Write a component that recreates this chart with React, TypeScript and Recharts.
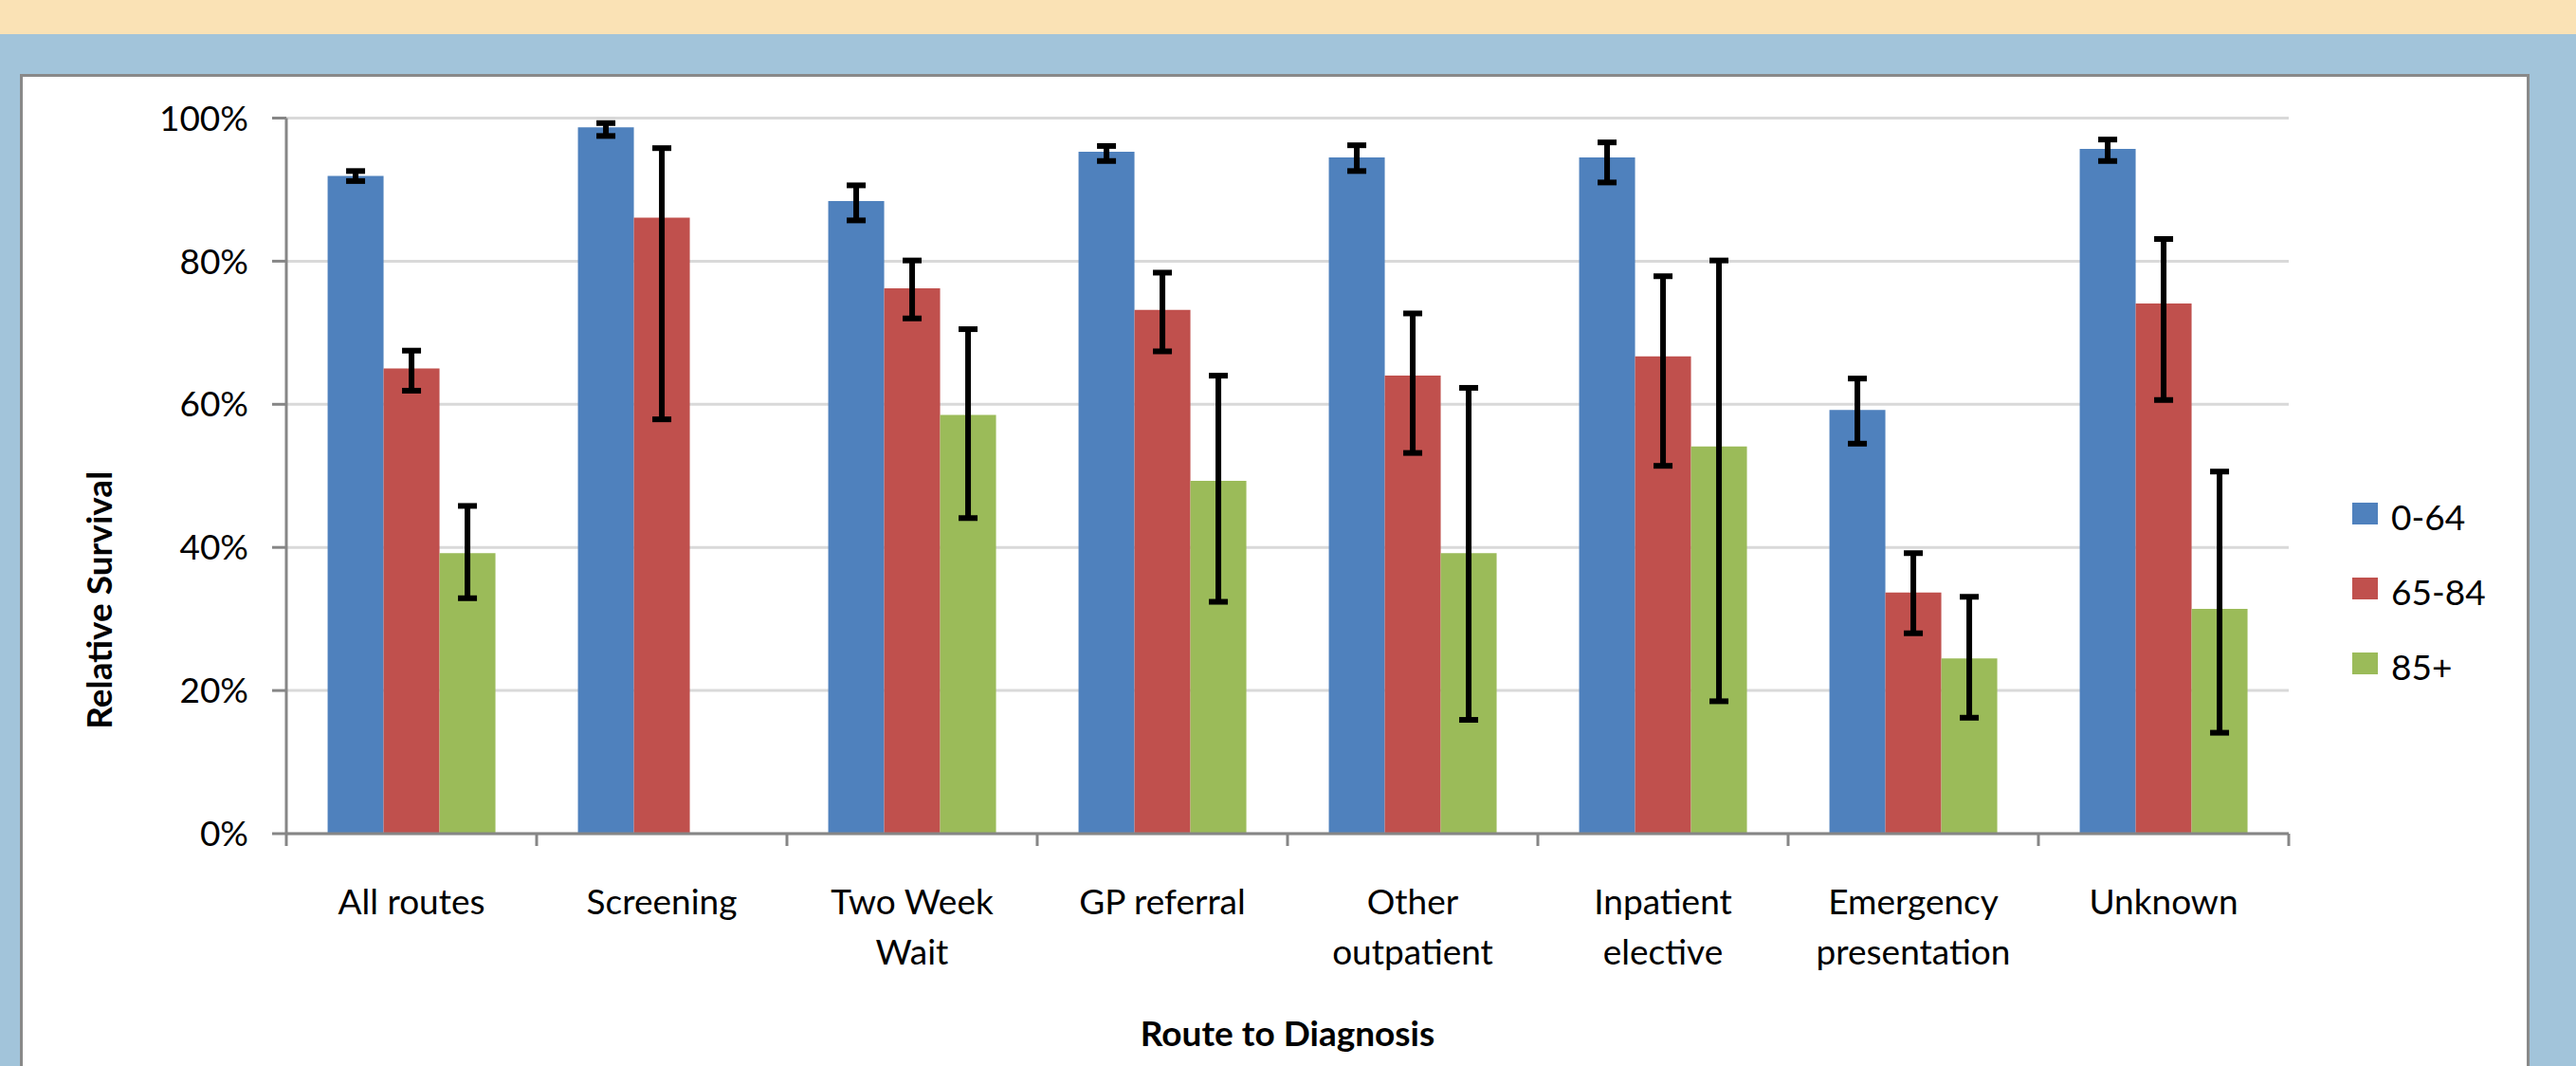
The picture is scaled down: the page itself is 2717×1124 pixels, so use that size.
import React from "react";
import { BarChart, Bar, XAxis, YAxis, CartesianGrid, ErrorBar, ReferenceLine, Label } from "recharts";

const routes = [
  "All routes",
  "Screening",
  "Two Week Wait",
  "GP referral",
  "Other outpatient",
  "Inpatient elective",
  "Emergency presentation",
  "Unknown",
];
const routeTickLines = [
  ["All routes"],
  ["Screening"],
  ["Two Week", "Wait"],
  ["GP referral"],
  ["Other", "outpatient"],
  ["Inpatient", "elective"],
  ["Emergency", "presentation"],
  ["Unknown"],
];

const ageGroups = ["0-64", "65-84", "85+"];
const ageColors = ["#4F81BD", "#C0504D", "#9BBB59"];

// relative survival (%) with lower / upper confidence limits
const survival0to64 = [91.9, 98.7, 88.4, 95.3, 94.5, 94.5, 59.2, 95.7];
const lower0to64 = [91.2, 97.5, 85.7, 94.0, 92.6, 91.0, 54.5, 94.0];
const upper0to64 = [92.6, 99.3, 90.6, 96.1, 96.2, 96.6, 63.6, 97.0];

const survival65to84 = [65.0, 86.1, 76.2, 73.2, 64.0, 66.7, 33.7, 74.1];
const lower65to84 = [61.9, 57.9, 72.0, 67.4, 53.2, 51.4, 28.0, 60.6];
const upper65to84 = [67.5, 95.8, 80.1, 78.4, 72.7, 77.9, 39.2, 83.1];

const survival85plus = [39.2, null, 58.5, 49.3, 39.2, 54.1, 24.5, 31.4];
const lower85plus = [32.9, null, 44.1, 32.4, 15.9, 18.5, 16.2, 14.1];
const upper85plus = [45.8, null, 70.5, 64.0, 62.3, 80.1, 33.1, 50.6];

const yTicks = [0, 20, 40, 60, 80, 100];

const series = [
  { values: survival0to64, lower: lower0to64, upper: upper0to64 },
  { values: survival65to84, lower: lower65to84, upper: upper65to84 },
  { values: survival85plus, lower: lower85plus, upper: upper85plus },
];

const data = routes.map((route, i) => {
  const row: any = { route };
  series.forEach((s, k) => {
    const v = s.values[i];
    row["s" + k] = v;
    row["e" + k] =
      v == null || s.lower[i] == null ? null : [v - (s.lower[i] as number), (s.upper[i] as number) - v];
  });
  return row;
});

const FONT = "Lato, Carlito, 'Liberation Sans', sans-serif";
const AXIS = "#868686";

const RouteTick = (props: any) => {
  const { x, y, payload, index } = props;
  const lines = routeTickLines[index] ?? [String(payload.value)];
  return (
    <text x={x} y={y + 85} textAnchor="middle" fontSize={37} fill="#000" fontFamily={FONT}>
      {lines.map((l, i) => (
        <tspan key={i} x={x} dy={i === 0 ? 0 : 53}>
          {l}
        </tspan>
      ))}
    </text>
  );
};

const boundaryTick = (p: any) => {
  const yb = Math.max(p.y1, p.y2);
  return <line x1={p.x1} x2={p.x1} y1={yb} y2={yb + 13} stroke={AXIS} strokeWidth={3} />;
};

export default function App() {
  return (
    <div
      style={{
        position: "absolute",
        left: 0,
        top: 0,
        width: 2717,
        height: 1124,
        overflow: "hidden",
        background: "#A2C4DA",
        fontFamily: FONT,
      }}
    >
      <div style={{ position: "absolute", left: 0, top: 0, width: 2717, height: 36, background: "#FAE2B5" }} />
      <div
        style={{
          position: "absolute",
          left: 21,
          top: 78,
          width: 2647,
          height: 1100,
          background: "#fff",
          border: "3px solid #898989",
          boxSizing: "border-box",
        }}
      />
      <div style={{ position: "absolute", left: 0, top: 0 }}>
        <BarChart
          width={2717}
          height={1124}
          data={data}
          margin={{ top: 124.5, right: 303, bottom: 95, left: 0 }}
          barCategoryGap="16.5%"
          barGap={0}
        >
          <CartesianGrid vertical={false} stroke="#D9D9D9" strokeWidth={3} />
          <XAxis
            dataKey="route"
            height={150}
            tick={<RouteTick />}
            tickLine={false}
            tickSize={0}
            tickMargin={0}
            interval={0}
            axisLine={{ stroke: AXIS, strokeWidth: 3 }}
          >
            <Label
              content={(p: any) => {
                const vb = p.viewBox;
                return (
                  <text
                    x={vb.x + vb.width / 2}
                    y={vb.y + 224}
                    textAnchor="middle"
                    fontSize={37}
                    fontWeight="bold"
                    fill="#000"
                    fontFamily={FONT}
                  >
                    Route to Diagnosis
                  </text>
                );
              }}
            />
          </XAxis>
          <YAxis
            width={302}
            domain={[0, 100]}
            ticks={yTicks}
            interval={0}
            tickFormatter={(v) => `${v}%`}
            tick={{ fill: "#000", fontSize: 37, fontFamily: FONT }}
            tickSize={15}
            tickMargin={25}
            tickLine={{ stroke: AXIS, strokeWidth: 3 }}
            axisLine={{ stroke: AXIS, strokeWidth: 3 }}
          >
            <Label
              content={(p: any) => {
                const vb = p.viewBox;
                const cx = vb.x + 118;
                const cy = vb.y + vb.height / 2 + 131;
                return (
                  <text
                    x={cx}
                    y={cy}
                    transform={`rotate(-90 ${cx} ${cy})`}
                    textAnchor="middle"
                    fontSize={37}
                    fontWeight="bold"
                    fill="#000"
                    fontFamily={FONT}
                  >
                    Relative Survival
                  </text>
                );
              }}
            />
          </YAxis>
          {ageGroups.map((g, k) => (
            <Bar key={g} dataKey={"s" + k} name={g} fill={ageColors[k]} isAnimationActive={false}>
              <ErrorBar
                dataKey={"e" + k}
                direction="y"
                width={10}
                strokeWidth={6}
                stroke="#000"
                isAnimationActive={false}
              />
            </Bar>
          ))}
          {routes.map((r) => (
            <ReferenceLine key={r} x={r} position="start" shape={boundaryTick} />
          ))}
          <ReferenceLine x={routes[routes.length - 1]} position="end" shape={boundaryTick} />
        </BarChart>
      </div>
      {ageGroups.map((g, k) => (
        <div key={g} style={{ position: "absolute", left: 2481, top: 530 + k * 79, height: 23, display: "flex", alignItems: "center" }}>
          <div style={{ width: 27, height: 23, background: ageColors[k] }} />
          <span style={{ marginLeft: 14, fontSize: 37, color: "#000", lineHeight: "23px", position: "relative", top: 3 }}>{g}</span>
        </div>
      ))}
    </div>
  );
}
